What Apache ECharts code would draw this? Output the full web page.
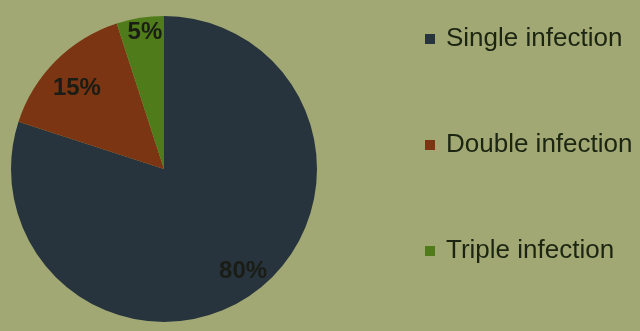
<!DOCTYPE html>
<html>
<head>
<meta charset="utf-8">
<script src="https://cdn.jsdelivr.net/npm/echarts@6/dist/echarts.min.js"></script>
<style>
  html, body { margin: 0; padding: 0; background: #a1a873; }
  #chart { width: 640px; height: 331px; }
</style>
</head>
<body>
<div id="chart"></div>
<script>
// Share of infection types
const categories = ['Single infection', 'Double infection', 'Triple infection'];
const shares = [80, 15, 5];
const sliceColors = ['#27343d', '#7b3512', '#4f7b1a'];

// small nudges so each percentage sits where it reads best in its slice
const labelNudge = { 'Single infection': [0, -6], 'Double infection': [8, 14], 'Triple infection': [2, -4] };

const pieCenter = [164, 169];
const pieRadius = 153;

const chart = echarts.init(document.getElementById('chart'), null, { renderer: 'canvas' });
chart.setOption({
  backgroundColor: '#a1a873',
  animation: false,
  legend: {
    orient: 'vertical',
    left: 420,
    top: 19,
    itemWidth: 10,
    itemHeight: 10,
    itemGap: 76,
    icon: 'rect',
    selectedMode: false,
    data: categories,
    textStyle: {
      fontFamily: 'Liberation Sans, Arial, sans-serif',
      fontSize: 26,
      lineHeight: 30,
      color: '#1b2512',
      padding: [0, 0, 0, 6]
    }
  },
  series: [
    {
      // the pie itself
      type: 'pie',
      center: pieCenter,
      radius: [0, pieRadius],
      startAngle: 90,
      clockwise: true,
      silent: true,
      label: { show: false },
      labelLine: { show: false },
      data: categories.map((name, i) => ({
        name: name,
        value: shares[i],
        itemStyle: { color: sliceColors[i] }
      }))
    },
    {
      // transparent ring that carries the percentage labels near the rim
      type: 'pie',
      center: pieCenter,
      radius: [110, pieRadius],
      startAngle: 90,
      clockwise: true,
      silent: true,
      legendHoverLink: false,
      itemStyle: { color: 'rgba(0,0,0,0)' },
      label: {
        show: true,
        position: 'inside',
        formatter: '{c}%',
        fontFamily: 'Liberation Sans, Arial, sans-serif',
        fontWeight: 'bold',
        fontSize: 24,
        color: '#1a1d15'
      },
      labelLine: { show: false },
      data: categories.map((name, i) => ({
        name: name,
        value: shares[i],
        itemStyle: { color: 'rgba(0,0,0,0)' },
        label: { offset: labelNudge[name] }
      }))
    }
  ]
});
</script>
</body>
</html>
